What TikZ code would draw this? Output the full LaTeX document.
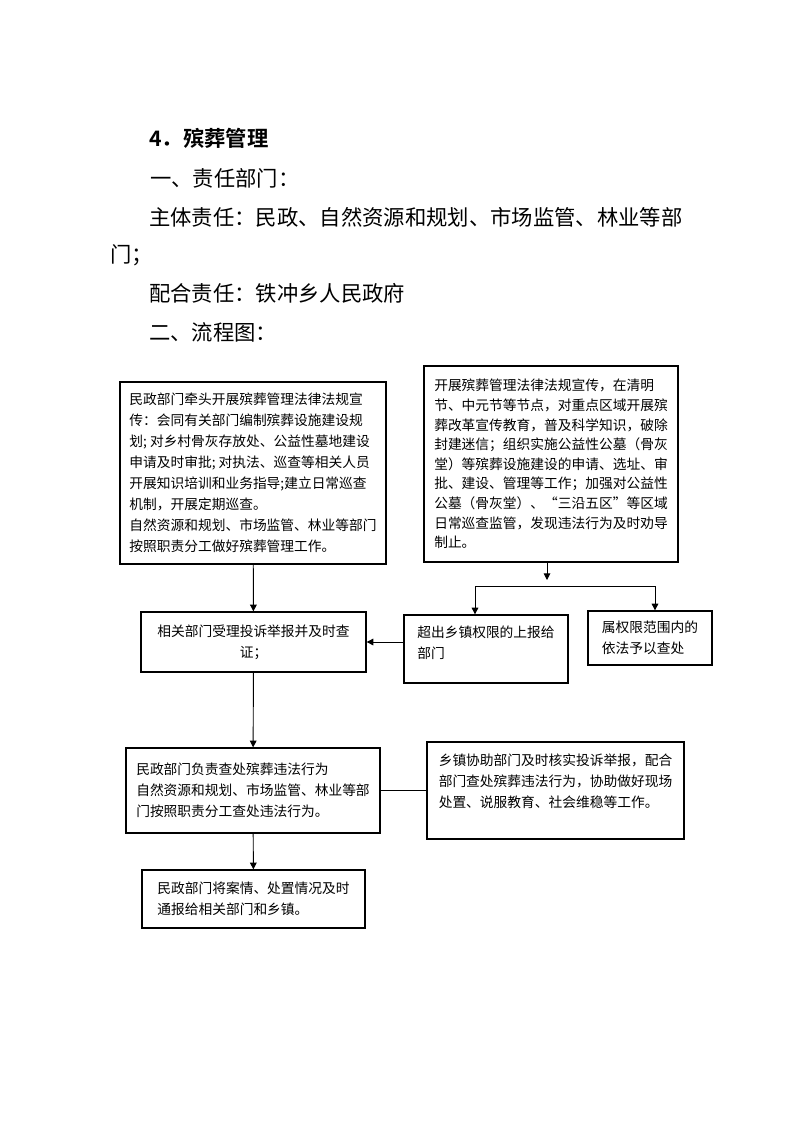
\documentclass[tikz,border=0pt]{standalone}
\usepackage{fontspec}
\usetikzlibrary{arrows.meta}
\newfontfamily\cjk{Noto Sans CJK SC}[BoldFont={Noto Sans CJK SC Bold}]
\newfontfamily\cjkhead{Noto Sans CJK SC}
\newcommand{\padbelow}[1]{\rule[-#1]{0pt}{#1}}

\begin{document}
\begin{tikzpicture}[x=0.75pt,y=-0.75pt,
  >={Triangle[length=5pt,width=5pt]},
  flow box/.style={draw,line width=1pt,align=left,inner sep=0pt,
    font=\cjk\fontsize{10.3pt}{15.8pt}\selectfont},
  head/.style={anchor=west,inner sep=0pt,font=\cjkhead\fontsize{16pt}{20pt}\selectfont},
  link/.style={line width=0.7pt}]

  \useasboundingbox[fill=white] (0,0) rectangle (793,1122);

  % heading lines
  \node[head,font=\cjk\bfseries\fontsize{16pt}{20pt}\selectfont] (title) at (149,138) {4．殡葬管理};
  \node[head] (dept) at (150,178) {一、责任部门：};
  \node[head] (main) at (149,217) {主体责任：民政、自然资源和规划、市场监管、林业等部};
  \node[head] (mainb) at (110,255) {门；};
  \node[head] (coop) at (149,293) {配合责任：铁冲乡人民政府};
  \node[head] (chart) at (149,332) {二、流程图：};

  % flow chart boxes
  \node[flow box,minimum width=199.5pt,minimum height=136.5pt] (lead) at (253,473)
    {民政部门牵头开展殡葬管理法律法规宣\\传：会同有关部门编制殡葬设施建设规\\划; 对乡村骨灰存放处、公益性墓地建设\\申请及时审批; 对执法、巡查等相关人员\\开展知识培训和业务指导;建立日常巡查\\机制，开展定期巡查。\\自然资源和规划、市场监管、林业等部门\\按照职责分工做好殡葬管理工作。};
  \node[flow box,minimum width=190.5pt,minimum height=147pt,
    font=\cjk\fontsize{10.3pt}{14.7pt}\selectfont] (publicity) at (551,464)
    {开展殡葬管理法律法规宣传，在清明\\节、中元节等节点，对重点区域开展殡\\葬改革宣传教育，普及科学知识，破除\\封建迷信；组织实施公益性公墓（骨灰\\堂）等殡葬设施建设的申请、选址、审\\批、建设、管理等工作；加强对公益性\\公墓（骨灰堂）、“三沿五区”等区域\\日常巡查监管，发现违法行为及时劝导\\制止。};
  \node[flow box,align=center,minimum width=168.75pt,minimum height=45pt] (accept) at (253.5,642)
    {相关部门受理投诉举报并及时查\\证；};
  \node[flow box,minimum width=123pt,minimum height=51pt] (report) at (486,649)
    {超出乡镇权限的上报给\\部门\padbelow{10.5pt}};
  \node[flow box,minimum width=93pt,minimum height=40.5pt] (handle) at (650,638)
    {属权限范围内的\\依法予以查处};
  \node[flow box,minimum width=190.5pt,minimum height=63.75pt] (punish) at (253,790.5)
    {民政部门负责查处殡葬违法行为\\自然资源和规划、市场监管、林业等部\\门按照职责分工查处违法行为。};
  \node[flow box,minimum width=192.75pt,minimum height=72.75pt] (assist) at (555.5,790.5)
    {乡镇协助部门及时核实投诉举报，配合\\部门查处殡葬违法行为，协助做好现场\\处置、说服教育、社会维稳等工作。\padbelow{15pt}};
  \node[flow box,minimum width=167.25pt,minimum height=43.5pt] (notify) at (253.5,899)
    {民政部门将案情、处置情况及时\\通报给相关部门和乡镇。};

  % connectors
  \coordinate (forkTip) at (547,580);
  \coordinate (forkL) at (475,586);
  \coordinate (forkR) at (655,586);

  \path[link,->]
   (lead) edge (accept)
   (accept) edge (punish)
   (punish) edge (notify)
   (report.west |- accept) edge (accept.east)
   (publicity.south -| forkTip) edge (forkTip)
   (forkL) edge (forkL |- report.north)
   (forkR) edge (forkR |- handle.north);
  \draw[link] (forkL) -- (forkR);
  \draw[link] (punish) -- (assist);
\end{tikzpicture}
\end{document}
